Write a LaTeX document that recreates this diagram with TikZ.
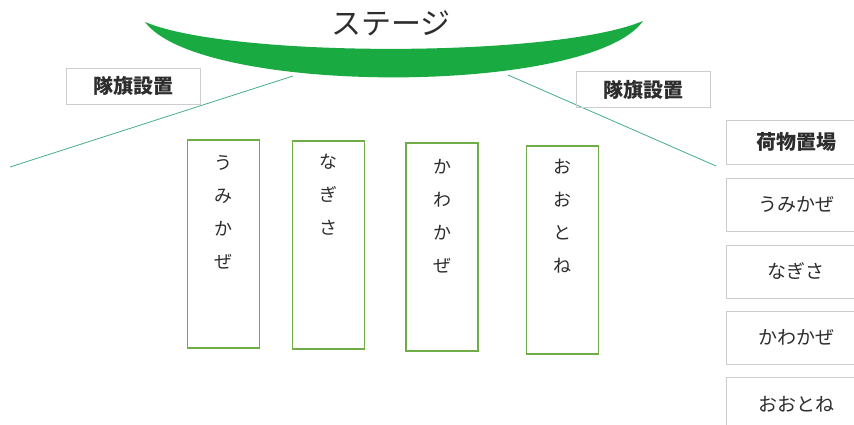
\documentclass[tikz,border=0pt]{standalone}
\usepackage{fontspec}
\setmainfont{Noto Sans CJK JP}
\usetikzlibrary{positioning}
\definecolor{stagegreen}{RGB}{25,170,65}
\definecolor{boxgreen}{RGB}{112,173,71}
\definecolor{linegreen}{RGB}{70,175,135}
\definecolor{boxgray}{RGB}{205,205,205}
\definecolor{txt}{RGB}{45,45,45}
\tikzstyle{aisle} = [linegreen, line width=0.8pt]
\tikzstyle{flag} = [
    rectangle, minimum width=134pt, minimum height=36pt, inner sep=0pt,
    draw=boxgray, text=txt, font=\fontsize{20}{20}\selectfont\bfseries]
\tikzstyle{spot} = [
    rectangle, minimum width=139pt, minimum height=53pt, inner sep=0pt,
    draw=boxgray, text=txt, font=\fontsize{19}{19}\selectfont]
\tikzstyle{tate} = [
    rectangle, minimum width=72pt, minimum height=208pt, inner sep=0pt,
    draw=boxgreen, line width=1.6pt]
\tikzstyle{tatetext} = [
    anchor=north, align=center, inner sep=0pt, text=txt,
    font=\fontsize{18}{33}\selectfont]

\begin{document}
\begin{tikzpicture}[x=1pt, y=-1pt, node distance=13pt]
\clip (0,0) rectangle (854,425);
\fill[white] (0,0) rectangle (854,425);

% stage
\fill[stagegreen] (145,22) .. controls (200,96) and (590,96) .. (643,21)
    .. controls (555,58) and (230,58) .. (145,22) -- cycle;
\node (stage) at (391,23) [text=txt, font=\fontsize{30}{30}\selectfont] {ステージ};

\coordinate (stageL) at (293,76);
\coordinate (endL) at (10,167);
\coordinate (stageR) at (508,75);
\coordinate (endR) at (716,166);
\draw [aisle] (stageL) -- (endL);
\draw [aisle] (stageR) -- (endR);

\node (flagL) [flag] at (133,86) {隊旗設置};
\node (flagR) [flag] at (643.5,89.5) {隊旗設置};

% team areas
\node (umi) [tate] at (223.5,244) {};
\node (nagisa) [tate] at (328.5,245) {};
\node (kawa) [tate] at (442,247) {};
\node (oto) [tate] at (562.5,250) {};
\node (umitext) [tatetext, below=16pt of umi.north] {う\\み\\か\\ぜ};
\node (nagisatext) [tatetext, below=14pt of nagisa.north] {な\\ぎ\\さ};
\node (kawatext) [tatetext, below=17pt of kawa.north] {か\\わ\\か\\ぜ};
\node (ototext) [tatetext, below=14pt of oto.north] {お\\お\\と\\ね};

% luggage
\node (cargo) [spot, minimum height=44pt, font=\fontsize{20}{20}\selectfont\bfseries] at (796,142) {荷物置場};
\node (umiR) [spot, below=14pt of cargo] {うみかぜ};
\node (nagisaR) [spot, below=of umiR] {なぎさ};
\node (kawaR) [spot, below=of nagisaR] {かわかぜ};
\node (otoR) [spot, below=of kawaR] {おおとね};
\end{tikzpicture}
\end{document}
